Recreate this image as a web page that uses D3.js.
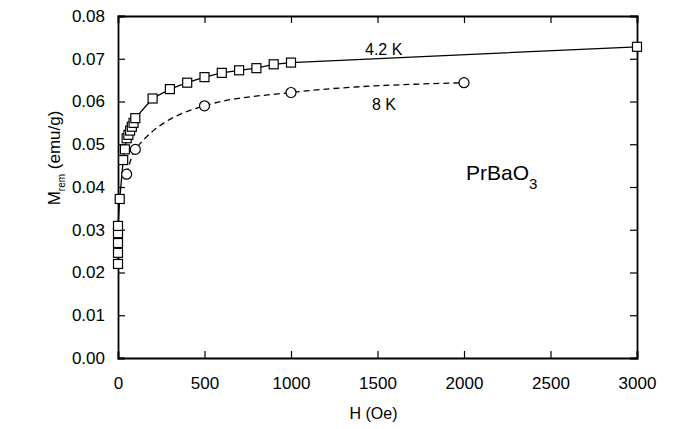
<!DOCTYPE html>
<html>
<head>
<meta charset="utf-8">
<script src="https://cdn.jsdelivr.net/npm/d3@7"></script>
<style>
  body { margin: 0; background: #fff; }
  text { font-family: "Liberation Sans", Arial, sans-serif; fill: #000; }
</style>
</head>
<body>
<svg id="chart" width="674" height="429"></svg>
<script>
// 4.2 K data (squares)
const h42 = [0, 0, 0, 0, 0, 10, 30, 40, 50, 60, 70, 80, 90, 100, 200, 300, 400, 500, 600, 700, 800, 900, 1000, 3000]
const m42 = [0.0220, 0.0246, 0.0269, 0.0292, 0.0309, 0.0372, 0.0463, 0.0488, 0.0514, 0.0522, 0.0532, 0.0541, 0.0550, 0.0561,
  0.0607, 0.0629, 0.0644, 0.0657, 0.0667, 0.0673, 0.0678, 0.0687, 0.0691, 0.0728]

// 8 K data (circles)
const h8 = [50, 100, 500, 1000, 2000]
const m8 = [0.0430, 0.0488, 0.0590, 0.0621, 0.0644]

const xTicks = [0, 500, 1000, 1500, 2000, 2500, 3000]
const yTicks = [0, 0.01, 0.02, 0.03, 0.04, 0.05, 0.06, 0.07, 0.08]

const svg = d3.select('#chart')
const mLeft = 118, mRight = 637, mTop = 16, mBottom = 358

const x = d3.scaleLinear().domain([0, 3000]).range([mLeft, mRight])
const y = d3.scaleLinear().domain([0, 0.08]).range([mBottom, mTop])

// axes, ticks pointing inward
svg.append('g')
  .attr('transform', `translate(0,${mBottom})`)
  .call(d3.axisBottom(x).tickValues(xTicks).tickSize(-7).tickPadding(19).tickFormat(d3.format('d')))
svg.append('g')
  .attr('transform', `translate(0,${mTop})`)
  .call(d3.axisTop(x).tickValues(xTicks).tickSize(-7).tickFormat(''))
svg.append('g')
  .attr('transform', `translate(${mLeft},0)`)
  .call(d3.axisLeft(y).tickValues(yTicks).tickSize(-7).tickPadding(13).tickFormat(d3.format('.2f')))
svg.append('g')
  .attr('transform', `translate(${mRight},0)`)
  .call(d3.axisRight(y).tickValues(yTicks).tickSize(-7).tickFormat(''))

svg.selectAll('.domain').attr('stroke', '#000').attr('stroke-width', 1.8)
svg.selectAll('.tick line').attr('stroke', '#000').attr('stroke-width', 1.2)
svg.selectAll('.tick text').style('font-size', '17px').style('font-family', '"Liberation Sans", Arial, sans-serif')

// lines
const d42 = h42.map((h, i) => [h, m42[i]])
const d8 = h8.map((h, i) => [h, m8[i]])

svg.append('path')
  .datum(d42)
  .attr('fill', 'none')
  .attr('stroke', '#000')
  .attr('stroke-width', 1.3)
  .attr('d', d3.line().x(d => x(d[0])).y(d => y(d[1])))

svg.append('path')
  .datum(d8)
  .attr('fill', 'none')
  .attr('stroke', '#000')
  .attr('stroke-width', 1.3)
  .attr('stroke-dasharray', '6,4')
  .attr('d', d3.line().curve(d3.curveMonotoneX).x(d => x(d[0])).y(d => y(d[1])))

// markers
svg.selectAll('rect.sq')
  .data(d42)
  .join('rect')
  .attr('class', 'sq')
  .attr('x', d => x(d[0]) - 4.5)
  .attr('y', d => y(d[1]) - 4.5)
  .attr('width', 9)
  .attr('height', 9)
  .attr('fill', '#fff')
  .attr('stroke', '#000')
  .attr('stroke-width', 1.2)

svg.selectAll('circle.ci')
  .data(d8)
  .join('circle')
  .attr('class', 'ci')
  .attr('cx', d => x(d[0]))
  .attr('cy', d => y(d[1]))
  .attr('r', 5)
  .attr('fill', '#fff')
  .attr('stroke', '#000')
  .attr('stroke-width', 1.2)

// annotations
svg.append('text').attr('x', 365).attr('y', 55).style('font-size', '16px').text('4.2 K')
svg.append('text').attr('x', 372).attr('y', 110).style('font-size', '16px').text('8 K')

const comp = svg.append('text').attr('x', 466).attr('y', 180).style('font-size', '21px')
comp.append('tspan').text('PrBaO')
comp.append('tspan').attr('dy', 9).style('font-size', '15px').text('3')

// axis titles
svg.append('text')
  .attr('x', (mLeft + mRight) / 2 - 4)
  .attr('y', 419)
  .attr('text-anchor', 'middle')
  .style('font-size', '16px')
  .text('H (Oe)')

const yl = svg.append('text')
  .attr('transform', 'translate(60,158) rotate(-90)')
  .attr('text-anchor', 'middle')
  .style('font-size', '17px')
yl.append('tspan').text('M')
yl.append('tspan').attr('dy', 5).style('font-size', '10px').text('rem')
yl.append('tspan').attr('dy', -5).text(' (emu/g)')
</script>
</body>
</html>
